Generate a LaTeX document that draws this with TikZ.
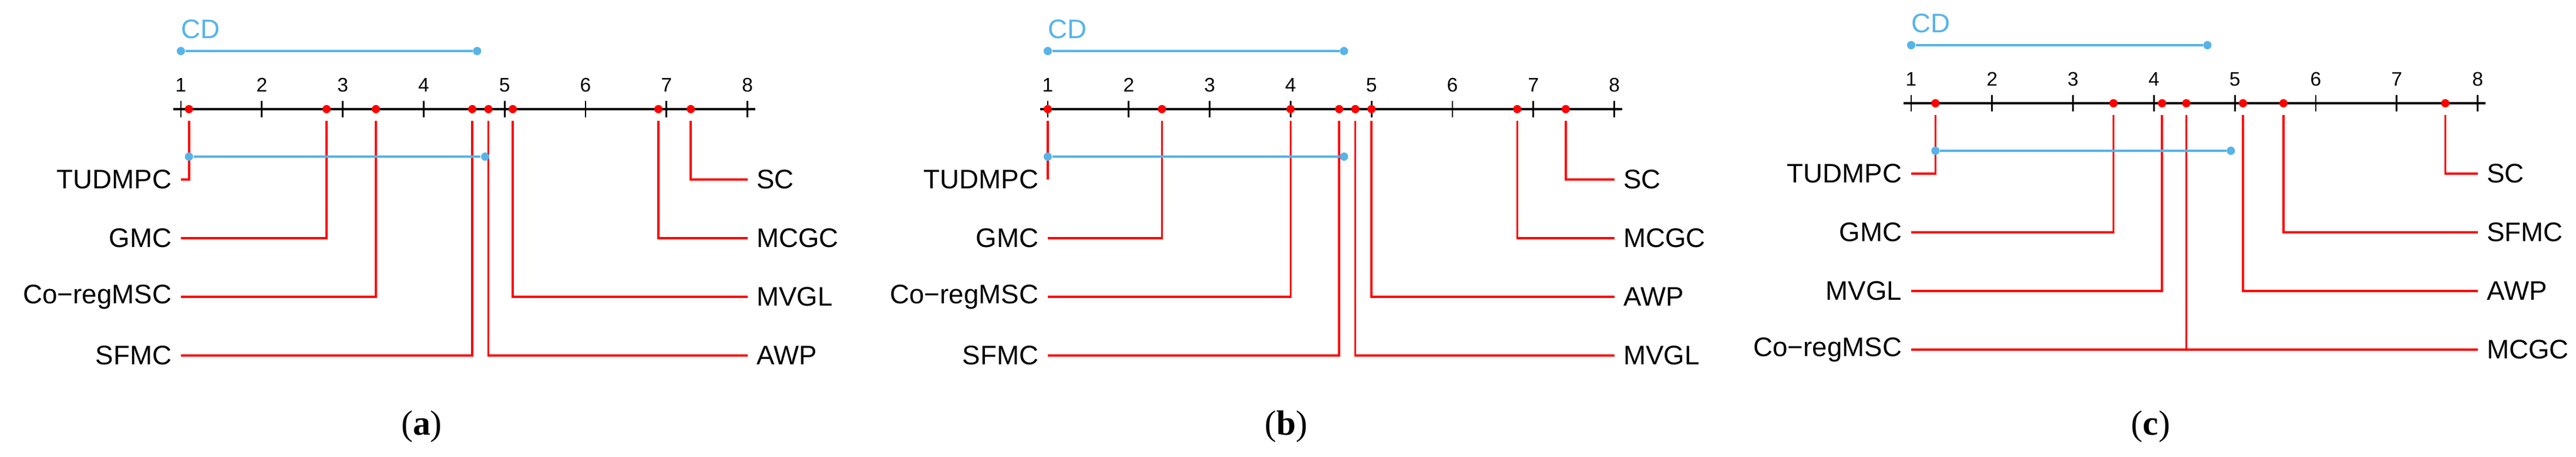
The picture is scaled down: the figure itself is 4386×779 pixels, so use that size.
\documentclass[tikz,border=0pt]{standalone}
\usepackage{fontspec}
\setmainfont{Liberation Serif}
\newfontfamily\lab{Liberation Sans}
\definecolor{cdblue}{RGB}{86,180,233}
\definecolor{rankred}{RGB}{255,0,0}
\tikzset{
 axisline/.style={line width=1.1pt, black},
 tickline/.style={line width=0.8pt, black},
 rankline/.style={line width=1pt, rankred},
 cdbar/.style={line width=1.1pt, cdblue},
 ticklab/.style={font=\lab\fontsize{9.5}{11}\selectfont, inner sep=0},
 methlab/.style={font=\lab\fontsize{13}{15}\selectfont, inner sep=0},
 caplab/.style={font=\fontsize{17}{20}\selectfont, inner sep=0},
 rdot/.style={circle, fill=rankred, inner sep=0, minimum size=4pt},
 bdot/.style={circle, fill=cdblue, inner sep=0, minimum size=4pt},
}
\newcommand\unitx{137.8}
% #1 prefix, #2 cd end, #3 group end, #4 group start
\newcommand\cdframe[4]{%
  \node[font=\lab\fontsize{13}{15}\selectfont, text=cdblue, anchor=west, inner sep=0] (#1cd) at (0,50) {CD};
  \node[bdot] (#1cdl) at (0,87) {};
  \node[bdot] (#1cdr) at ({(#2-1)*\unitx},87) {};
  \draw[cdbar] (#1cdl) -- (#1cdr);
  \coordinate (#1axl) at (-13,186);
  \coordinate (#1axr) at ({7*\unitx+13},186);
  \draw[axisline] (#1axl) -- (#1axr);
  \foreach \t in {1,...,8}{
    \coordinate (#1tt\t) at ({(\t-1)*\unitx},172);
    \coordinate (#1tb\t) at ({(\t-1)*\unitx},200);
    \draw[tickline] (#1tt\t) -- (#1tb\t);
    \node[ticklab] (#1tl\t) at ({(\t-1)*\unitx},145) {\t};
  }
  \node[bdot] (#1gl) at ({(#4-1)*\unitx},267) {};
  \node[bdot] (#1gr) at ({(#3-1)*\unitx},267) {};
}
\newcommand\leftrank[4]{% prefix, value, row y, name
  \coordinate (#1s#3) at ({(#2-1)*\unitx},206);
  \coordinate (#1c#3) at ({(#2-1)*\unitx},#3);
  \coordinate (#1e#3) at (0,#3);
  \draw[rankline] (#1s#3) -- (#1c#3) -- (#1e#3);
  \node[methlab, anchor=east] (#1n#3) at (-15,#3) {#4};
}
\newcommand\rightrank[4]{%
  \coordinate (#1S#3) at ({(#2-1)*\unitx},206);
  \coordinate (#1C#3) at ({(#2-1)*\unitx},#3);
  \coordinate (#1E#3) at ({7*\unitx},#3);
  \draw[rankline] (#1S#3) -- (#1C#3) -- (#1E#3);
  \node[methlab, anchor=west] (#1N#3) at ({7*\unitx+15},#3) {#4};
}
\newcommand\rdots[2]{% prefix, list
  \foreach \v [count=\k] in {#2}{\node[rdot] (#1dot\k) at ({(\v-1)*\unitx},186) {};}
}
\begin{document}
\begin{tikzpicture}[x=0.01cm, y=-0.01cm]
\useasboundingbox (0,0) rectangle (4386,779);
% (a)
\begin{scope}[shift={(308,0)}]
  \leftrank{a}{1.10}{306}{TUDMPC}
  \leftrank{a}{2.80}{406}{GMC}
  \leftrank{a}{3.41}{506}{Co\textminus regMSC}
  \leftrank{a}{4.60}{606}{SFMC}
  \rightrank{a}{7.30}{306}{SC}
  \rightrank{a}{6.90}{406}{MCGC}
  \rightrank{a}{5.10}{506}{MVGL}
  \rightrank{a}{4.80}{606}{AWP}
  \cdframe{a}{4.66}{4.76}{1.10}
  \rdots{a}{1.10,2.80,3.41,4.60,4.80,5.10,6.90,7.30}
  \draw[cdbar] (agl) -- (agr);
\end{scope}
\node[caplab] (capa) at (718,727) {(\textbf{a})};
% (b)
\begin{scope}[shift={(1784,0)}]
  \leftrank{b}{1.00}{306}{TUDMPC}
  \leftrank{b}{2.41}{406}{GMC}
  \leftrank{b}{4.00}{506}{Co\textminus regMSC}
  \leftrank{b}{4.60}{606}{SFMC}
  \rightrank{b}{7.40}{306}{SC}
  \rightrank{b}{6.80}{406}{MCGC}
  \rightrank{b}{5.00}{506}{AWP}
  \rightrank{b}{4.80}{606}{MVGL}
  \cdframe{b}{4.66}{4.66}{1.00}
  \rdots{b}{1.00,2.41,4.00,4.60,4.80,5.00,6.80,7.40}
  \draw[cdbar] (bgl) -- (bgr);
\end{scope}
\node[caplab] (capb) at (2190,727) {(\textbf{b})};
% (c)
\begin{scope}[shift={(3254,-10)}]
  \leftrank{c}{1.30}{306}{TUDMPC}
  \leftrank{c}{3.50}{406}{GMC}
  \leftrank{c}{4.10}{506}{MVGL}
  \leftrank{c}{4.40}{606}{Co\textminus regMSC}
  \rightrank{c}{7.60}{306}{SC}
  \rightrank{c}{5.60}{406}{SFMC}
  \rightrank{c}{5.10}{506}{AWP}
  \rightrank{c}{4.40}{606}{MCGC}
  \cdframe{c}{4.66}{4.95}{1.30}
  \rdots{c}{1.30,3.50,4.10,4.40,5.10,5.60,7.60}
  \draw[cdbar] (cgl) -- (cgr);
\end{scope}
\node[caplab] (capc) at (3662,727) {(\textbf{c})};
\end{tikzpicture}
\end{document}
